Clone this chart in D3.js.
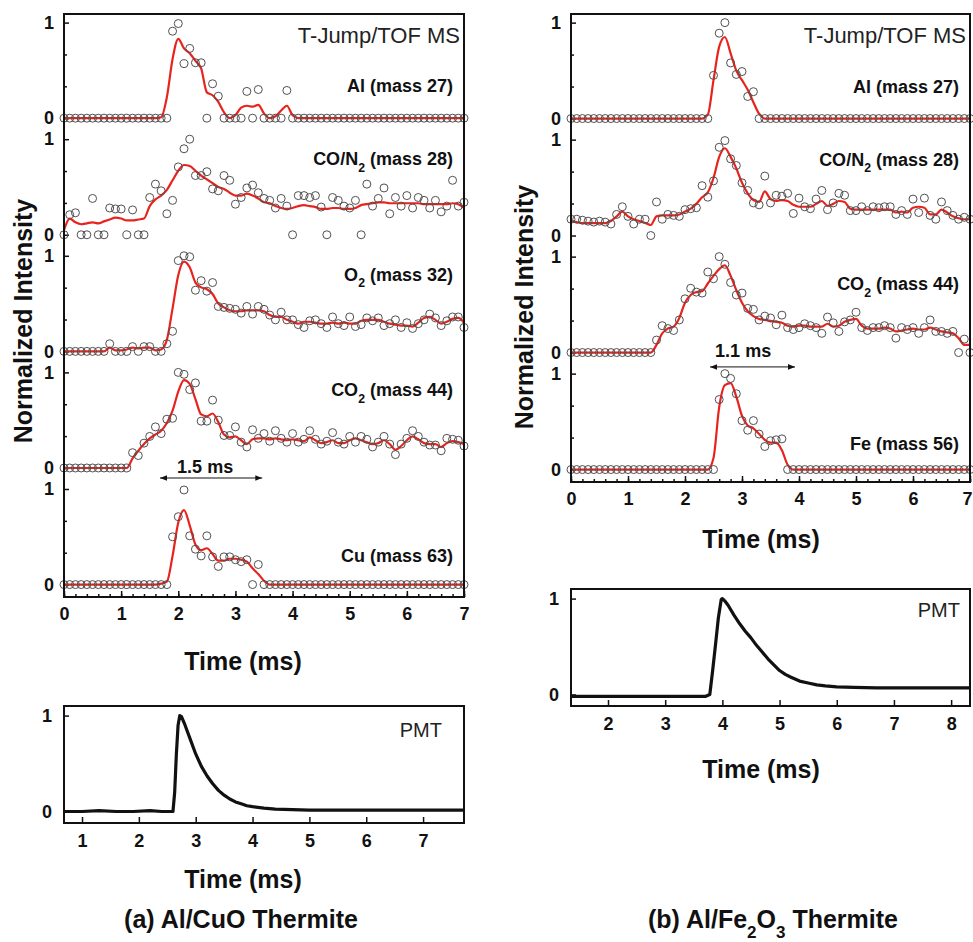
<!DOCTYPE html>
<html>
<head>
<meta charset="utf-8">
<script src="https://cdn.jsdelivr.net/npm/d3@7"></script>
<style>
  body { margin: 0; background: #fff; }
  svg { font-family: "Liberation Sans", Arial, Helvetica, sans-serif; }
</style>
</head>
<body>
<svg id="chart" width="973" height="942"></svg>
<script>

// time grid of the mass spectra (ms), one point every 0.1 ms
var times = d3.range(71).map(function(i){ return i / 10; });

// --- (a) Al/CuO : measured points and red fits
var alPtsA = [0,0,0,0,0,0,0,0,0,0, 0,0,0,0,0,0,0,0,0,0.91,
  0.99,0.57,0.73,0.58,0.58,0,0.36,0.23,0,0, 0,0,0.28,0,0.30,0,0,0,0,0.29,
  0,0,0,0,0,0,0,0,0,0, 0,0,0,0,0,0,0,0,0,0, 0,0,0,0,0,0,0,0,0,0, 0];
var alFitA = [0,0,0,0,0,0,0,0,0,0, 0,0,0,0,0,0,0,0.01,0.22,0.62,
  0.83,0.73,0.68,0.6,0.52,0.27,0.24,0.17,0.06,0, 0.03,0.11,0.13,0.12,0.14,0.05,0,0.02,0.08,0.13,
  0.03,0,0,0,0,0,0,0,0,0, 0,0,0,0,0,0,0,0,0,0, 0,0,0,0,0,0,0,0,0,0, 0];

var coPtsA = [0,0.21,0.23,0,0,0.38,0,0,0.28,0.27, 0.27,0,0.26,0,0,0.39,0.53,0.46,0.22,0.36,
  0.71,0.9,1.0,0.62,0.62,0.66,0.48,0.46,0.62,0.57, 0.32,0.39,0.49,0.52,0.44,0.38,0.36,0.28,0.38,0.3,
  0,0.41,0.41,0.39,0.41,0.29,0,0.39,0.36,0.3, 0.28,0.36,0,0.53,0.3,0.38,0.49,0.22,0.39,0.3,
  0.41,0.28,0.39,0.36,0.28,0.36,0.24,0.3,0.57,0.3, 0.34];
var coFitA = [0.05,0.17,0.13,0.11,0.12,0.13,0.12,0.14,0.16,0.18, 0.17,0.15,0.15,0.16,0.17,0.3,0.37,0.41,0.47,0.57,
  0.67,0.73,0.72,0.67,0.62,0.58,0.54,0.5,0.48,0.44, 0.41,0.41,0.43,0.41,0.38,0.34,0.33,0.3,0.28,0.27,
  0.28,0.3,0.31,0.3,0.29,0.27,0.27,0.28,0.28,0.27, 0.27,0.28,0.31,0.32,0.33,0.34,0.34,0.33,0.33,0.33,
  0.33,0.33,0.33,0.32,0.32,0.32,0.32,0.32,0.33,0.32, 0.28];

var o2PtsA = [0,0,0,0,0,0,0,0,0.08,0, 0,0,0.05,0,0.05,0.05,0,0,0.08,0.21,
  0.95,1.0,0.99,0.64,0.74,0.63,0.72,0.47,0.46,0.45, 0.44,0.4,0.47,0.39,0.47,0.44,0.38,0.33,0.41,0.33,
  0.33,0.28,0.25,0.32,0.33,0.29,0.25,0.36,0.29,0.27, 0.36,0.26,0.28,0.35,0.32,0.35,0.27,0.29,0.33,0.25,
  0.3,0.24,0.29,0.33,0.39,0.35,0.27,0.32,0.36,0.36, 0.25];
var o2FitA = [0,0,0,0,0,0,0,0,0.04,0.01, 0.01,0.02,0.04,0.03,0.04,0.04,0.01,0.02,0.12,0.45,
  0.8,0.94,0.88,0.72,0.67,0.65,0.6,0.5,0.46,0.43, 0.42,0.42,0.43,0.43,0.43,0.42,0.38,0.36,0.36,0.33,
  0.31,0.29,0.31,0.31,0.3,0.29,0.29,0.3,0.29,0.3, 0.29,0.29,0.32,0.33,0.33,0.33,0.31,0.29,0.28,0.27,
  0.27,0.26,0.3,0.35,0.36,0.33,0.29,0.31,0.34,0.35, 0.3];

var co2PtsA = [0,0,0,0,0,0,0,0,0,0, 0,0,0.16,0.13,0.26,0.33,0.43,0.36,0.51,0.52,
  1.0,0.98,0.82,0.89,0.49,0.49,0.71,0.5,0.34,0.34, 0.43,0.27,0.22,0.4,0.31,0.36,0.28,0.39,0.31,0.27,
  0.36,0.27,0.3,0.39,0.3,0.25,0.28,0.37,0.27,0.25, 0.33,0.27,0.33,0.3,0.22,0.27,0.33,0.25,0.14,0.25,
  0.31,0.39,0.33,0.27,0.24,0.24,0.18,0.31,0.3,0.29, 0.23];
var co2FitA = [0,0,0,0,0,0,0,0,0,0, 0,0,0.1,0.18,0.25,0.31,0.35,0.39,0.47,0.6,
  0.8,0.92,0.88,0.72,0.56,0.54,0.57,0.48,0.35,0.32, 0.33,0.29,0.25,0.3,0.31,0.31,0.3,0.31,0.3,0.29,
  0.3,0.29,0.28,0.32,0.29,0.26,0.27,0.29,0.26,0.26, 0.29,0.31,0.29,0.27,0.25,0.26,0.29,0.25,0.19,0.23,
  0.29,0.33,0.3,0.26,0.25,0.25,0.22,0.26,0.28,0.27, 0.25];

var cuPtsA = [0,0,0,0,0,0,0,0,0,0, 0,0,0,0,0,0,0,0,0,0.5,
  0.71,0.99,0.51,0.37,0.3,0.51,0.29,0.19,0.29,0.29, 0.26,0.24,0.26,0,0.21,0,0,0,0,0,
  0,0,0,0,0,0,0,0,0,0, 0,0,0,0,0,0,0,0,0,0, 0,0,0,0,0,0,0,0,0,0, 0];
var cuFitA = [0,0,0,0,0,0,0,0,0,0, 0,0,0,0,0,0,0,0.01,0.03,0.3,
  0.65,0.78,0.62,0.42,0.36,0.38,0.32,0.25,0.25,0.27, 0.27,0.26,0.24,0.17,0.11,0.04,0,0,0,0,
  0,0,0,0,0,0,0,0,0,0, 0,0,0,0,0,0,0,0,0,0, 0,0,0,0,0,0,0,0,0,0, 0];

// --- (b) Al/Fe2O3
var alPtsB = [0,0,0,0,0,0,0,0,0,0, 0,0,0,0,0,0,0,0,0,0,
  0,0,0,0,0,0.45,0.89,1.0,0.58,0.46, 0.49,0.23,0.28,0,0,0,0,0,0,0,
  0,0,0,0,0,0,0,0,0,0, 0,0,0,0,0,0,0,0,0,0, 0,0,0,0,0,0,0,0,0,0, 0];
var alFitB = [0,0,0,0,0,0,0,0,0,0, 0,0,0,0,0,0,0,0,0,0,
  0,0,0,0,0.04,0.4,0.75,0.85,0.68,0.5, 0.4,0.3,0.17,0.05,0,0,0,0,0,0,
  0,0,0,0,0,0,0,0,0,0, 0,0,0,0,0,0,0,0,0,0, 0,0,0,0,0,0,0,0,0,0, 0];

var coPtsB = [0.17,0.17,0.16,0.15,0.14,0.15,0.14,0.12,0.22,0.3, 0.2,0.12,0.17,0.17,0,0.35,0.17,0.22,0.21,0.2,
  0.27,0.28,0.29,0.52,0.4,0.57,0.92,0.99,0.8,0.73, 0.55,0.47,0.34,0.32,0.62,0.34,0.42,0.41,0.44,0.23,
  0.39,0.3,0.28,0.38,0.47,0.27,0.34,0.44,0.42,0.26, 0.26,0.3,0.26,0.3,0.29,0.3,0.3,0.22,0.26,0.22,
  0.38,0.24,0.39,0.21,0.17,0.35,0.26,0.21,0.17,0.19, 0.17];
var coFitB = [0.15,0.14,0.13,0.13,0.13,0.13,0.13,0.15,0.2,0.25, 0.2,0.17,0.15,0.13,0.11,0.2,0.21,0.21,0.21,0.22,
  0.25,0.28,0.33,0.4,0.45,0.6,0.82,0.91,0.82,0.7, 0.55,0.44,0.37,0.35,0.46,0.38,0.36,0.37,0.36,0.32,
  0.3,0.3,0.3,0.33,0.36,0.31,0.33,0.36,0.35,0.28, 0.27,0.27,0.27,0.27,0.27,0.27,0.27,0.24,0.25,0.24,
  0.29,0.3,0.29,0.22,0.22,0.27,0.24,0.2,0.18,0.17, 0.17];

var co2PtsB = [0,0,0,0,0,0,0,0,0,0, 0,0,0,0,0,0.13,0.28,0.25,0.23,0.34,
  0.56,0.67,0.63,0.62,0.84,0.77,1.0,0.92,0.73,0.6, 0.62,0.46,0.45,0.34,0.38,0.36,0.29,0.39,0.26,0.24,
  0.26,0.3,0.28,0.26,0.2,0.37,0.31,0.22,0.32,0.34, 0.42,0.26,0.23,0.26,0.26,0.28,0.26,0.15,0.26,0.24,
  0.26,0.2,0.26,0.34,0.22,0.22,0.2,0.22,0,0.14, 0];
var co2FitB = [0,0,0,0,0,0,0,0,0,0, 0,0,0,0,0,0.08,0.2,0.25,0.27,0.36,
  0.52,0.6,0.63,0.64,0.72,0.8,0.87,0.91,0.8,0.65, 0.52,0.43,0.38,0.35,0.34,0.33,0.32,0.31,0.28,0.27,
  0.28,0.28,0.27,0.27,0.27,0.3,0.27,0.28,0.32,0.34, 0.35,0.28,0.25,0.25,0.25,0.26,0.25,0.22,0.23,0.24,
  0.25,0.24,0.24,0.26,0.24,0.22,0.21,0.2,0.15,0.08, 0.08];

var fePtsB = [0,0,0,0,0,0,0,0,0,0, 0,0,0,0,0,0,0,0,0,0,
  0,0,0,0,0,0,0.73,1.0,0.95,0.79, 0.51,0.41,0.51,0.37,0.24,0.3,0.31,0.32,0,0,
  0,0,0,0,0,0,0,0,0,0, 0,0,0,0,0,0,0,0,0,0, 0,0,0,0,0,0,0,0,0,0, 0];
var feFitB = [0,0,0,0,0,0,0,0,0,0, 0,0,0,0,0,0,0,0,0,0,
  0,0,0,0,0,0.12,0.65,0.88,0.9,0.76, 0.56,0.46,0.43,0.37,0.31,0.28,0.28,0.2,0.05,0,
  0,0,0,0,0,0,0,0,0,0, 0,0,0,0,0,0,0,0,0,0, 0,0,0,0,0,0,0,0,0,0, 0];

// --- PMT traces
var pmtTimeA = [0.7,1.0,1.3,1.6,1.9,2.2,2.4,2.6,2.63,2.66,2.69,2.72,2.75,2.8,2.85,2.9,3.0,3.1,3.2,3.3,
  3.4,3.5,3.6,3.7,3.8,3.9,4.0,4.2,4.4,4.7,5.0,5.5,6.0,6.5,7.0,7.5,7.72];
var pmtValA = [0,0,0.01,0,0,0.01,0,0,0.2,0.6,0.9,1.0,0.99,0.92,0.84,0.76,0.6,0.47,0.37,0.29,
  0.22,0.17,0.13,0.1,0.08,0.06,0.05,0.035,0.025,0.02,0.015,0.015,0.015,0.015,0.015,0.015,0.015];
var pmtTimeB = [1.35,1.8,2.2,2.6,3.0,3.4,3.7,3.78,3.83,3.88,3.93,3.98,4.0,4.05,4.1,4.2,4.3,4.4,4.5,4.6,
  4.7,4.8,4.9,5.0,5.1,5.2,5.35,5.5,5.65,5.8,6.0,6.3,6.7,7.0,7.5,8.0,8.33];
var pmtValB = [-0.02,-0.02,-0.02,-0.02,-0.02,-0.02,-0.02,0,0.25,0.52,0.8,0.99,1.0,0.97,0.93,0.83,0.74,0.66,0.59,0.51,
  0.44,0.37,0.31,0.25,0.21,0.18,0.14,0.12,0.1,0.09,0.08,0.075,0.07,0.07,0.07,0.07,0.07];

var xTicks = [0,1,2,3,4,5,6,7];

// panel descriptions (label segments: "_" prefix = subscript)
var panelsA = [
  {pts: alPtsA,  fit: alFitA,  label: ["Al (mass 27)"],              ly: 0.27},
  {pts: coPtsA,  fit: coFitA,  label: ["CO/N", "_2", " (mass 28)"],  ly: 0.73},
  {pts: o2PtsA,  fit: o2FitA,  label: ["O", "_2", " (mass 32)"],     ly: 0.74},
  {pts: co2PtsA, fit: co2FitA, label: ["CO", "_2", " (mass 44)"],    ly: 0.75},
  {pts: cuPtsA,  fit: cuFitA,  label: ["Cu (mass 63)"],              ly: 0.24}
];
var panelsB = [
  {pts: alPtsB,  fit: alFitB,  label: ["Al (mass 27)"],              ly: 0.27},
  {pts: coPtsB,  fit: coFitB,  label: ["CO/N", "_2", " (mass 28)"],  ly: 0.73},
  {pts: co2PtsB, fit: co2FitB, label: ["CO", "_2", " (mass 44)"],    ly: 0.65},
  {pts: fePtsB,  fit: feFitB,  label: ["Fe (mass 56)"],              ly: 0.20}
];

var svg = d3.select("#chart");

// arrow heads for the width markers
var defs = svg.append("defs");
["start", "end"].forEach(function(k){
  defs.append("marker")
    .attr("id", "arr-" + k)
    .attr("viewBox", "0 0 10 10")
    .attr("refX", k == "end" ? 10 : 0).attr("refY", 5)
    .attr("markerWidth", 7).attr("markerHeight", 7)
    .attr("markerUnits", "userSpaceOnUse")
    .attr("orient", "auto")
    .append("path")
    .attr("d", k == "end" ? "M0,1 L10,5 L0,9 Z" : "M10,1 L0,5 L10,9 Z")
    .attr("fill", "#111");
});

// text with optional subscripts
function richText(g, x, y, segs, size, weight, anchor) {
  var t = g.append("text")
    .attr("x", x).attr("y", y)
    .attr("text-anchor", anchor)
    .style("font-size", size + "px")
    .style("font-weight", weight)
    .attr("fill", "#111");
  var down = false;
  segs.forEach(function(s){
    if (s.charAt(0) == "_") {
      t.append("tspan").attr("dy", size * 0.38).style("font-size", (size * 0.68) + "px").text(s.slice(1));
      down = true;
    } else {
      var sp = t.append("tspan").text(s);
      if (down) { sp.attr("dy", -size * 0.38); down = false; }
    }
  });
  return t;
}

function styleAxis(g, size) {
  g.select(".domain").remove();
  g.selectAll("line").attr("stroke", "#111").attr("stroke-width", 1.5);
  g.selectAll("text").style("font-size", size + "px").style("font-weight", "bold")
    .attr("fill", "#111").style("font-family", '"Liberation Sans", Arial, sans-serif');
}

function drawStack(cfg) {
  var g = svg.append("g");
  var x = d3.scaleLinear().domain([0, 7]).range([cfg.left, cfg.right]);
  var H = (cfg.bottom - cfg.top) / cfg.panels.length;
  var ys = [];

  cfg.panels.forEach(function(p, i) {
    var y = d3.scaleLinear().domain([-0.13, 1.09])
      .range([cfg.top + (i + 1) * H, cfg.top + i * H]);
    ys.push(y);

    // y ticks (inside), labels at 0 and 1
    var ya = g.append("g").attr("transform", "translate(" + cfg.left + ",0)")
      .call(d3.axisLeft(y).tickValues([0, 1]).tickSize(-5).tickPadding(10).tickFormat(d3.format("d")));
    styleAxis(ya, 18);
    var ym = g.append("g").attr("transform", "translate(" + cfg.left + ",0)")
      .call(d3.axisLeft(y).tickValues([1/3, 2/3]).tickSize(-3).tickFormat(""));
    styleAxis(ym, 18);

    var line = d3.line()
      .x(function(d, j){ return x(times[j]); })
      .y(function(d){ return y(d); })
      .curve(d3.curveMonotoneX);

    g.append("path").datum(p.fit)
      .attr("d", line)
      .attr("fill", "none")
      .attr("stroke", "#e8231e")
      .attr("stroke-width", 2.2);

    g.append("g").selectAll("circle")
      .data(p.pts)
      .enter().append("circle")
      .attr("cx", function(d, j){ return x(times[j]); })
      .attr("cy", function(d){ return y(d); })
      .attr("r", 4)
      .attr("fill", "none")
      .attr("stroke", "#505050")
      .attr("stroke-width", 1);

    richText(g, cfg.right - 11, y(p.ly), p.label, 18, "bold", "end");
  });

  // x axis, ticks pointing in
  var xa = g.append("g").attr("transform", "translate(0," + cfg.bottom + ")")
    .call(d3.axisBottom(x).tickValues(xTicks).tickSize(-6).tickPadding(10).tickFormat(d3.format("d")));
  styleAxis(xa, 18);
  // keep the last label inside the page
  if (cfg.right > 960) {
    xa.selectAll(".tick").filter(function(d){ return d == 7; }).select("text")
      .attr("text-anchor", "end").attr("x", 972 - cfg.right);
  }
  var xm = g.append("g").attr("transform", "translate(0," + cfg.bottom + ")")
    .call(d3.axisBottom(x).tickValues(d3.range(0, 7.01, 0.2)).tickSize(-3).tickFormat(""));
  styleAxis(xm, 18);

  g.append("rect")
    .attr("x", cfg.left).attr("y", cfg.top)
    .attr("width", cfg.right - cfg.left).attr("height", cfg.bottom - cfg.top)
    .attr("fill", "none").attr("stroke", "#111").attr("stroke-width", 2);

  g.append("text")
    .attr("x", cfg.right - 4).attr("y", cfg.top + 29)
    .attr("text-anchor", "end")
    .style("font-size", "22px").attr("fill", "#222")
    .text("T-Jump/TOF MS");

  // width marker
  var a = cfg.arrow, ya2 = ys[a.panel];
  g.append("line")
    .attr("x1", x(a.from)).attr("x2", x(a.to))
    .attr("y1", ya2(a.y)).attr("y2", ya2(a.y))
    .attr("stroke", "#111").attr("stroke-width", 1)
    .attr("marker-start", "url(#arr-start)")
    .attr("marker-end", "url(#arr-end)");
  g.append("text")
    .attr("x", x(a.tx)).attr("y", ya2(a.ty))
    .attr("text-anchor", "middle")
    .style("font-size", "18px").style("font-weight", "bold").attr("fill", "#111")
    .text(a.text);

  g.append("text")
    .attr("transform", "translate(" + cfg.ylabX + "," + cfg.ylabY + ") rotate(-90)")
    .attr("text-anchor", "middle")
    .style("font-size", "25px").style("font-weight", "bold").attr("fill", "#111")
    .text("Normalized Intensity");

  g.append("text")
    .attr("x", cfg.tlabX).attr("y", cfg.tlabY)
    .attr("text-anchor", "middle")
    .style("font-size", "25px").style("font-weight", "bold").attr("fill", "#111")
    .text("Time (ms)");
}

function drawPMT(cfg) {
  var g = svg.append("g");
  var x = d3.scaleLinear().domain(cfg.xDomain).range([cfg.left, cfg.right]);
  var y = d3.scaleLinear().domain([-0.12, 1.1]).range([cfg.bottom, cfg.top]);

  var line = d3.line()
    .x(function(d, j){ return x(cfg.t[j]); })
    .y(function(d){ return y(d); });

  g.append("path").datum(cfg.v)
    .attr("d", line)
    .attr("fill", "none")
    .attr("stroke", "#111")
    .attr("stroke-width", 3.2)
    .attr("stroke-linejoin", "round");

  var ya = g.append("g").attr("transform", "translate(" + cfg.left + ",0)")
    .call(d3.axisLeft(y).tickValues([0, 1]).tickSize(-5).tickPadding(12).tickFormat(d3.format("d")));
  styleAxis(ya, 18);

  var xa = g.append("g").attr("transform", "translate(0," + cfg.bottom + ")")
    .call(d3.axisBottom(x).tickValues(cfg.ticks).tickSize(-6).tickPadding(11).tickFormat(d3.format("d")));
  styleAxis(xa, 18);

  g.append("rect")
    .attr("x", cfg.left).attr("y", cfg.top)
    .attr("width", cfg.right - cfg.left).attr("height", cfg.bottom - cfg.top)
    .attr("fill", "none").attr("stroke", "#111").attr("stroke-width", 2);

  g.append("text")
    .attr("x", cfg.pmtX).attr("y", cfg.pmtY)
    .attr("text-anchor", "end")
    .style("font-size", "20px").attr("fill", "#222")
    .text("PMT");

  g.append("text")
    .attr("x", cfg.tlabX).attr("y", cfg.tlabY)
    .attr("text-anchor", "middle")
    .style("font-size", "25px").style("font-weight", "bold").attr("fill", "#111")
    .text("Time (ms)");
}

drawStack({
  left: 64, right: 464, top: 14, bottom: 597, panels: panelsA,
  arrow: {panel: 3, from: 1.68, to: 3.47, y: -0.105, tx: 2.47, ty: -0.05, text: "1.5 ms"},
  ylabX: 32, ylabY: 321, tlabX: 243, tlabY: 670
});
drawStack({
  left: 571, right: 970, top: 14, bottom: 482, panels: panelsB,
  arrow: {panel: 2, from: 2.44, to: 3.93, y: -0.15, tx: 3.02, ty: -0.047, text: "1.1 ms"},
  ylabX: 533, ylabY: 307, tlabX: 761, tlabY: 548
});

drawPMT({
  left: 64, right: 464, top: 706, bottom: 823, xDomain: [0.683, 7.72],
  t: pmtTimeA, v: pmtValA, ticks: [1,2,3,4,5,6,7],
  pmtX: 442, pmtY: 737, tlabX: 243, tlabY: 888
});
drawPMT({
  left: 571, right: 970, top: 589, bottom: 706, xDomain: [1.353, 8.33],
  t: pmtTimeB, v: pmtValB, ticks: [2,3,4,5,6,7,8],
  pmtX: 960, pmtY: 617, tlabX: 761, tlabY: 778
});

richText(svg, 241, 928, ["(a) Al/CuO Thermite"], 25, "bold", "middle");
richText(svg, 773, 928, ["(b) Al/Fe", "_2", "O", "_3", " Thermite"], 25, "bold", "middle");

</script>
</body>
</html>
